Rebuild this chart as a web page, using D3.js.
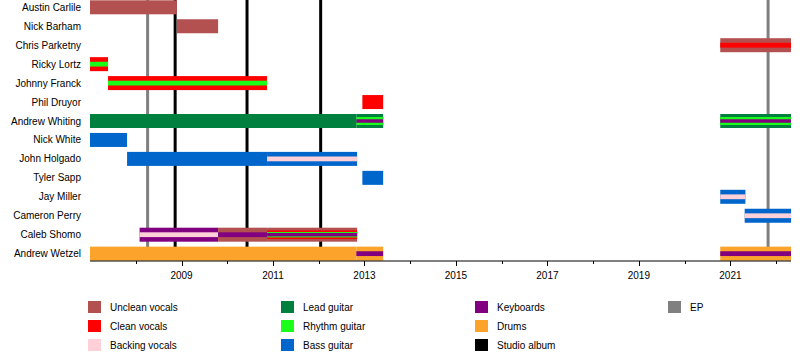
<!DOCTYPE html>
<html>
<head>
<meta charset="utf-8">
<script src="https://cdn.jsdelivr.net/npm/d3@7"></script>
<style>
  html, body { margin: 0; padding: 0; background: #fff; }
  svg { display: block; font-family: "Liberation Sans", Arial, sans-serif; }
</style>
</head>
<body>
<svg id="chart" width="800" height="360"></svg>
<script>
// ---------------- DATA ----------------
const members = [
  "Austin Carlile", "Nick Barham", "Chris Parketny", "Ricky Lortz", "Johnny Franck",
  "Phil Druyor", "Andrew Whiting", "Nick White", "John Holgado", "Tyler Sapp",
  "Jay Miller", "Cameron Perry", "Caleb Shomo", "Andrew Wetzel"
];

const roles = [
  "Unclean vocals", "Clean vocals", "Backing vocals", "Lead guitar",
  "Rhythm guitar", "Bass guitar", "Keyboards", "Drums"
];

const releaseTypes = ["Studio album", "EP"];

const timelineStart = "2007-01-01";
const timelineEnd = "2022-04-30";

// member, from, till, roles (outermost first)
const periods = [
  ["Austin Carlile", "2007-01-01", "2008-11-25", ["Unclean vocals"]],
  ["Nick Barham", "2008-11-25", "2009-10-20", ["Unclean vocals"]],
  ["Chris Parketny", "2020-10-12", "2022-04-30", ["Unclean vocals", "Clean vocals"]],
  ["Ricky Lortz", "2007-01-01", "2007-05-25", ["Clean vocals", "Rhythm guitar"]],
  ["Johnny Franck", "2007-05-25", "2010-11-15", ["Clean vocals", "Rhythm guitar"]],
  ["Phil Druyor", "2012-12-15", "2013-05-30", ["Clean vocals"]],
  ["Andrew Whiting", "2007-01-01", "2012-10-28", ["Lead guitar"]],
  ["Andrew Whiting", "2012-10-28", "2013-05-30", ["Lead guitar", "Rhythm guitar", "Keyboards"]],
  ["Andrew Whiting", "2020-10-12", "2022-04-30", ["Lead guitar", "Rhythm guitar", "Keyboards"]],
  ["Nick White", "2007-01-01", "2007-10-24", ["Bass guitar"]],
  ["John Holgado", "2007-10-24", "2010-11-15", ["Bass guitar"]],
  ["John Holgado", "2010-11-15", "2012-11-03", ["Bass guitar", "Backing vocals"]],
  ["Tyler Sapp", "2012-12-15", "2013-05-30", ["Bass guitar"]],
  ["Jay Miller", "2020-10-12", "2021-05-01", ["Bass guitar", "Backing vocals"]],
  ["Cameron Perry", "2021-04-25", "2022-04-30", ["Bass guitar", "Backing vocals"]],
  ["Caleb Shomo", "2008-02-01", "2009-10-20", ["Keyboards", "Backing vocals"]],
  ["Caleb Shomo", "2009-10-20", "2010-11-15", ["Unclean vocals", "Keyboards"]],
  ["Caleb Shomo", "2010-11-15", "2012-11-03", ["Unclean vocals", "Clean vocals", "Rhythm guitar", "Keyboards"]],
  ["Andrew Wetzel", "2007-01-01", "2012-10-28", ["Drums"]],
  ["Andrew Wetzel", "2012-10-28", "2013-05-30", ["Drums", "Keyboards"]],
  ["Andrew Wetzel", "2020-10-12", "2022-04-30", ["Drums", "Keyboards"]]
];

const studioAlbums = ["2008-11-11", "2010-06-08", "2012-01-17"];
const eps = ["2008-04-05", "2021-10-29"];

const tickYears = [2008, 2009, 2010, 2011, 2012, 2013, 2014, 2015, 2016, 2017, 2018, 2019, 2020, 2021, 2022];
const labelYears = [2009, 2011, 2013, 2015, 2017, 2019, 2021];

// ---------------- STYLE / LAYOUT ----------------
const parse = d3.timeParse("%Y-%m-%d");
const svg = d3.select("#chart");

const plotLeft = 90, plotRight = 791, plotTop = 0, axisY = 261;
const rowPitch = 18.95, firstRow = 7.3;

const x = d3.scaleTime()
  .domain([parse(timelineStart), parse(timelineEnd)])
  .range([plotLeft, plotRight]);

const yCenter = d3.scalePoint()
  .domain(members)
  .range([firstRow, firstRow + rowPitch * (members.length - 1)]);

const color = d3.scaleOrdinal()
  .domain(roles.concat(releaseTypes))
  .range(["#b35050", "#ff0000", "#ffd0d8", "#00803f", "#1aff1a", "#0066cc", "#800080", "#fba32a", "#000000", "#808080"]);

const layerHeights = {
  1: [14],
  2: [14, 4.8],
  3: [14, 8, 3.5],
  4: [14, 8.6, 5.4, 3.4]
};

// release lines (behind bars)
const lineG = svg.append("g");
lineG.selectAll("line.ep")
  .data(eps)
  .join("line")
  .attr("x1", d => x(parse(d))).attr("x2", d => x(parse(d)))
  .attr("y1", plotTop).attr("y2", axisY - 1)
  .attr("stroke", color("EP")).attr("stroke-width", 3);
lineG.selectAll("line.album")
  .data(studioAlbums)
  .join("line")
  .attr("x1", d => x(parse(d))).attr("x2", d => x(parse(d)))
  .attr("y1", plotTop).attr("y2", axisY - 1)
  .attr("stroke", color("Studio album")).attr("stroke-width", 3);

// bars
const barG = svg.append("g");
periods.forEach(([member, from, till, rs]) => {
  const x0 = x(parse(from)), x1 = x(parse(till));
  const cy = yCenter(member);
  const hs = layerHeights[rs.length];
  rs.forEach((r, i) => {
    barG.append("rect")
      .attr("x", x0)
      .attr("y", cy - hs[i] / 2)
      .attr("width", Math.max(0, x1 - x0))
      .attr("height", hs[i])
      .attr("fill", color(r));
  });
});

// member labels
svg.append("g").selectAll("text")
  .data(members)
  .join("text")
  .attr("x", 81)
  .attr("y", d => yCenter(d))
  .attr("dy", "0.35em")
  .attr("text-anchor", "end")
  .attr("font-size", 10)
  .attr("fill", "#000")
  .text(d => d);

// axis
const axisG = svg.append("g");
axisG.append("line")
  .attr("x1", plotLeft).attr("x2", plotRight)
  .attr("y1", axisY).attr("y2", axisY)
  .attr("stroke", "#000").attr("stroke-width", 1);
axisG.selectAll("line.tick")
  .data(tickYears)
  .join("line")
  .attr("x1", d => Math.round(x(new Date(d, 0, 1))) + 0.5)
  .attr("x2", d => Math.round(x(new Date(d, 0, 1))) + 0.5)
  .attr("y1", axisY)
  .attr("y2", d => axisY + (labelYears.includes(d) ? 5 : 3))
  .attr("stroke", "#000").attr("stroke-width", 1);
axisG.selectAll("text")
  .data(labelYears)
  .join("text")
  .attr("x", d => x(new Date(d, 0, 1)))
  .attr("y", axisY + 18)
  .attr("text-anchor", "middle")
  .attr("font-size", 10)
  .text(d => d);

// legend
const legendItems = roles.concat(releaseTypes);
const legendCols = [88, 281, 475, 668];
const legendRows = [301, 320, 339];
const perCol = 3;
const lg = svg.append("g");
legendItems.forEach((name, i) => {
  const c = Math.floor(i / perCol), r = i % perCol;
  const lx = legendCols[c], ly = legendRows[r];
  lg.append("rect")
    .attr("x", lx).attr("y", ly)
    .attr("width", 13).attr("height", 12)
    .attr("fill", color(name));
  lg.append("text")
    .attr("x", lx + 22).attr("y", ly + 10)
    .attr("font-size", 10)
    .text(name);
});
</script>
</body>
</html>
